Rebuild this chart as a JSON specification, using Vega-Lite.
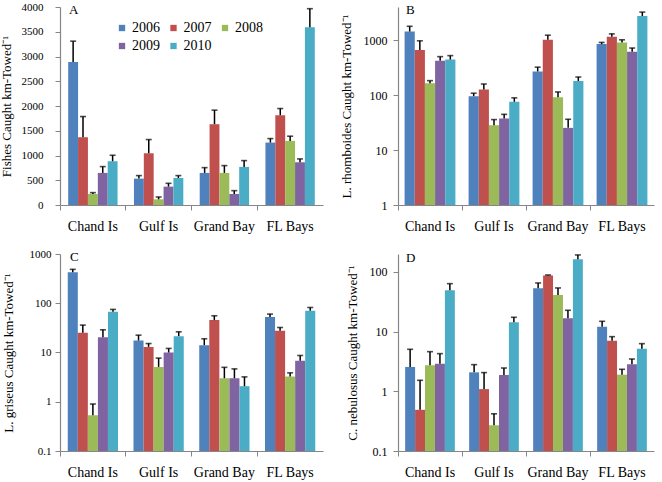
{
  "$schema": "https://vega.github.io/schema/vega-lite/v6.json",
  "padding": {"left": 0, "top": 1, "right": 5, "bottom": 5},
  "background": "white",
  "config": {
    "view": {"stroke": null},
    "font": "Liberation Serif",
    "axis": {"domainColor": "#868686", "tickColor": "#868686", "tickSize": 5, "grid": false, "labelColor": "black", "labelFont": "Liberation Serif", "titleFont": "Liberation Serif", "titleFontWeight": "normal", "titleColor": "black", "domainWidth": 1.2, "labelOverlap": false},
    "title": {"font": "Liberation Serif", "fontSize": 13, "fontWeight": "normal", "color": "black"}
  },
  "data": {"values": [
    {"panel": "A", "site": "Chand Is", "year": "2006", "value": 2890, "upper": 3310},
    {"panel": "A", "site": "Chand Is", "year": "2007", "value": 1369, "upper": 1787},
    {"panel": "A", "site": "Chand Is", "year": "2008", "value": 223, "upper": 250},
    {"panel": "A", "site": "Chand Is", "year": "2009", "value": 648, "upper": 776},
    {"panel": "A", "site": "Chand Is", "year": "2010", "value": 884, "upper": 1005},
    {"panel": "A", "site": "Gulf Is", "year": "2006", "value": 533, "upper": 594},
    {"panel": "A", "site": "Gulf Is", "year": "2007", "value": 1045, "upper": 1322},
    {"panel": "A", "site": "Gulf Is", "year": "2008", "value": 115, "upper": 162},
    {"panel": "A", "site": "Gulf Is", "year": "2009", "value": 371, "upper": 438},
    {"panel": "A", "site": "Gulf Is", "year": "2010", "value": 546, "upper": 594},
    {"panel": "A", "site": "Grand Bay", "year": "2006", "value": 648, "upper": 755},
    {"panel": "A", "site": "Grand Bay", "year": "2007", "value": 1632, "upper": 1916},
    {"panel": "A", "site": "Grand Bay", "year": "2008", "value": 648, "upper": 796},
    {"panel": "A", "site": "Grand Bay", "year": "2009", "value": 223, "upper": 290},
    {"panel": "A", "site": "Grand Bay", "year": "2010", "value": 769, "upper": 897},
    {"panel": "A", "site": "FL Bays", "year": "2006", "value": 1261, "upper": 1342},
    {"panel": "A", "site": "FL Bays", "year": "2007", "value": 1814, "upper": 1949},
    {"panel": "A", "site": "FL Bays", "year": "2008", "value": 1295, "upper": 1390},
    {"panel": "A", "site": "FL Bays", "year": "2009", "value": 863, "upper": 931},
    {"panel": "A", "site": "FL Bays", "year": "2010", "value": 3589, "upper": 3966},
    {"panel": "B", "site": "Chand Is", "year": "2006", "value": 1430, "upper": 1783},
    {"panel": "B", "site": "Chand Is", "year": "2007", "value": 660, "upper": 971},
    {"panel": "B", "site": "Chand Is", "year": "2008", "value": 164, "upper": 183},
    {"panel": "B", "site": "Chand Is", "year": "2009", "value": 419, "upper": 500},
    {"panel": "B", "site": "Chand Is", "year": "2010", "value": 442, "upper": 522},
    {"panel": "B", "site": "Gulf Is", "year": "2006", "value": 95.4, "upper": 108},
    {"panel": "B", "site": "Gulf Is", "year": "2007", "value": 126, "upper": 159},
    {"panel": "B", "site": "Gulf Is", "year": "2008", "value": 28.3, "upper": 35.8},
    {"panel": "B", "site": "Gulf Is", "year": "2009", "value": 37.3, "upper": 44.6},
    {"panel": "B", "site": "Gulf Is", "year": "2010", "value": 75.4, "upper": 89},
    {"panel": "B", "site": "Grand Bay", "year": "2006", "value": 269, "upper": 322},
    {"panel": "B", "site": "Grand Bay", "year": "2007", "value": 1012, "upper": 1228},
    {"panel": "B", "site": "Grand Bay", "year": "2008", "value": 91.5, "upper": 114},
    {"panel": "B", "site": "Grand Bay", "year": "2009", "value": 25.3, "upper": 36.3},
    {"panel": "B", "site": "Grand Bay", "year": "2010", "value": 180, "upper": 213},
    {"panel": "B", "site": "FL Bays", "year": "2006", "value": 846, "upper": 907},
    {"panel": "B", "site": "FL Bays", "year": "2007", "value": 1146, "upper": 1298},
    {"panel": "B", "site": "FL Bays", "year": "2008", "value": 907, "upper": 1012},
    {"panel": "B", "site": "FL Bays", "year": "2009", "value": 616, "upper": 717},
    {"panel": "B", "site": "FL Bays", "year": "2010", "value": 2737, "upper": 3230},
    {"panel": "C", "site": "Chand Is", "year": "2006", "value": 424, "upper": 488},
    {"panel": "C", "site": "Chand Is", "year": "2007", "value": 25.1, "upper": 36},
    {"panel": "C", "site": "Chand Is", "year": "2008", "value": 0.53, "upper": 0.9},
    {"panel": "C", "site": "Chand Is", "year": "2009", "value": 20.5, "upper": 28.9},
    {"panel": "C", "site": "Chand Is", "year": "2010", "value": 67.1, "upper": 75},
    {"panel": "C", "site": "Gulf Is", "year": "2006", "value": 17.5, "upper": 22.5},
    {"panel": "C", "site": "Gulf Is", "year": "2007", "value": 13.0, "upper": 15.2},
    {"panel": "C", "site": "Gulf Is", "year": "2008", "value": 5.1, "upper": 7.7},
    {"panel": "C", "site": "Gulf Is", "year": "2009", "value": 10, "upper": 12.1},
    {"panel": "C", "site": "Gulf Is", "year": "2010", "value": 21.5, "upper": 26.3},
    {"panel": "C", "site": "Grand Bay", "year": "2006", "value": 14.1, "upper": 19.0},
    {"panel": "C", "site": "Grand Bay", "year": "2007", "value": 45.5, "upper": 55.7},
    {"panel": "C", "site": "Grand Bay", "year": "2008", "value": 3.0, "upper": 5.0},
    {"panel": "C", "site": "Grand Bay", "year": "2009", "value": 3.0, "upper": 4.65},
    {"panel": "C", "site": "Grand Bay", "year": "2010", "value": 2.07, "upper": 3.2},
    {"panel": "C", "site": "FL Bays", "year": "2006", "value": 52.3, "upper": 60.3},
    {"panel": "C", "site": "FL Bays", "year": "2007", "value": 27.6, "upper": 32.2},
    {"panel": "C", "site": "FL Bays", "year": "2008", "value": 3.25, "upper": 3.86},
    {"panel": "C", "site": "FL Bays", "year": "2009", "value": 6.77, "upper": 8.7},
    {"panel": "C", "site": "FL Bays", "year": "2010", "value": 70.3, "upper": 82},
    {"panel": "D", "site": "Chand Is", "year": "2006", "value": 2.56, "upper": 5.06},
    {"panel": "D", "site": "Chand Is", "year": "2007", "value": 0.49, "upper": 1.53},
    {"panel": "D", "site": "Chand Is", "year": "2008", "value": 2.73, "upper": 4.62},
    {"panel": "D", "site": "Chand Is", "year": "2009", "value": 2.91, "upper": 4.28},
    {"panel": "D", "site": "Chand Is", "year": "2010", "value": 49.3, "upper": 63.7},
    {"panel": "D", "site": "Gulf Is", "year": "2006", "value": 2.08, "upper": 2.8},
    {"panel": "D", "site": "Gulf Is", "year": "2007", "value": 1.09, "upper": 2.06},
    {"panel": "D", "site": "Gulf Is", "year": "2008", "value": 0.27, "upper": 0.42},
    {"panel": "D", "site": "Gulf Is", "year": "2009", "value": 1.88, "upper": 2.46},
    {"panel": "D", "site": "Gulf Is", "year": "2010", "value": 14.3, "upper": 17.4},
    {"panel": "D", "site": "Grand Bay", "year": "2006", "value": 53.2, "upper": 65.4},
    {"panel": "D", "site": "Grand Bay", "year": "2007", "value": 86.9, "upper": 89},
    {"panel": "D", "site": "Grand Bay", "year": "2008", "value": 41.2, "upper": 54.0},
    {"panel": "D", "site": "Grand Bay", "year": "2009", "value": 16.7, "upper": 22.8},
    {"panel": "D", "site": "Grand Bay", "year": "2010", "value": 163, "upper": 193},
    {"panel": "D", "site": "FL Bays", "year": "2006", "value": 12.1, "upper": 14.9},
    {"panel": "D", "site": "FL Bays", "year": "2007", "value": 7.07, "upper": 8.24},
    {"panel": "D", "site": "FL Bays", "year": "2008", "value": 1.9, "upper": 2.34},
    {"panel": "D", "site": "FL Bays", "year": "2009", "value": 2.84, "upper": 3.48},
    {"panel": "D", "site": "FL Bays", "year": "2010", "value": 5.19, "upper": 6.29}
  ]},
  "resolve": {"scale": {"color": "independent", "y": "independent", "x": "independent", "xOffset": "independent"}, "legend": {"color": "independent"}},
  "bounds": "flush",
  "columns": 2,
  "spacing": {"row": 49, "column": 75},
  "concat": [
    {
      "width": 263, "height": 198,
      "title": {"text": "A", "anchor": "start", "frame": "group", "offset": 0, "dx": 9, "dy": 26, "baseline": "alphabetic"},
      "transform": [{"filter": "datum.panel == 'A'"}],
      "encoding": {
        "x": {"field": "site", "type": "nominal", "sort": ["Chand Is", "Gulf Is", "Grand Bay", "FL Bays"], "scale": {"paddingInner": 0, "paddingOuter": 0}, "axis": {"title": null, "labelAngle": 0, "labelFontSize": 14, "labelPadding": 9, "bandPosition": 0}},
        "xOffset": {"field": "year", "type": "nominal", "scale": {"paddingInner": 0, "paddingOuter": 0.83}}
      },
      "layer": [
        {"mark": {"type": "bar"}, "encoding": {
          "y": {"field": "value", "type": "quantitative", "stack": null, "scale": {"domain": [0, 4000], "nice": false}, "axis": {"title": "Fishes Caught km-Towed⁻¹", "titleFontSize": 13, "titlePadding": 8, "labelFontSize": 11, "labelPadding": 12, "labelOverlap": false, "values": [0, 500, 1000, 1500, 2000, 2500, 3000, 3500, 4000], "tickCount": 9, "format": "d"}},
          "color": {"field": "year", "type": "nominal", "scale": {"domain": ["2006", "2007", "2008", "2009", "2010"], "range": ["#4F81BD", "#C0504D", "#9BBB59", "#8064A2", "#4BACC6"]},
            "legend": {"title": null, "orient": "none", "legendX": 55, "legendY": 14, "columns": 3, "direction": "horizontal", "symbolType": "square", "symbolSize": 40, "symbolStrokeWidth": 0, "labelFont": "Liberation Serif", "labelFontSize": 14, "labelColor": "black", "columnPadding": 6.5, "rowPadding": 4, "labelOffset": 3}}
        }},
        {"mark": {"type": "rule", "color": "black", "strokeWidth": 1.5}, "encoding": {"y": {"field": "value", "type": "quantitative", "axis": {"title": "Fishes Caught km-Towed⁻¹", "titleFontSize": 13, "titlePadding": 8, "labelFontSize": 11, "labelPadding": 12, "labelOverlap": false, "values": [0, 500, 1000, 1500, 2000, 2500, 3000, 3500, 4000], "tickCount": 9, "format": "d"}}, "y2": {"field": "upper"}}},
        {"mark": {"type": "tick", "color": "black", "thickness": 1.6, "size": 6}, "encoding": {"y": {"field": "upper", "type": "quantitative", "axis": {"title": "Fishes Caught km-Towed⁻¹", "titleFontSize": 13, "titlePadding": 8, "labelFontSize": 11, "labelPadding": 12, "labelOverlap": false, "values": [0, 500, 1000, 1500, 2000, 2500, 3000, 3500, 4000], "tickCount": 9, "format": "d"}}}}
      ]
    },
    {
      "width": 256, "height": 198,
      "title": {"text": "B", "anchor": "start", "frame": "group", "offset": 0, "dx": 8, "dy": 20, "baseline": "alphabetic"},
      "transform": [{"filter": "datum.panel == 'B'"}],
      "encoding": {
        "x": {"field": "site", "type": "nominal", "sort": ["Chand Is", "Gulf Is", "Grand Bay", "FL Bays"], "scale": {"paddingInner": 0, "paddingOuter": 0}, "axis": {"title": null, "labelAngle": 0, "labelFontSize": 14, "labelPadding": 9, "bandPosition": 0}},
        "xOffset": {"field": "year", "type": "nominal", "scale": {"paddingInner": 0, "paddingOuter": 0.65}}
      },
      "layer": [
        {"mark": {"type": "bar"}, "encoding": {
          "y": {"field": "value", "type": "quantitative", "stack": null, "scale": {"type": "log", "domain": [1, 4000], "nice": false}, "axis": {"title": "L. rhomboides Caught km-Towed⁻¹", "titleFontSize": 13, "titlePadding": 10, "labelFontSize": 12, "labelPadding": 6, "values": [1, 10, 100, 1000], "format": "~g"}},
          "color": {"field": "year", "type": "nominal", "scale": {"domain": ["2006", "2007", "2008", "2009", "2010"], "range": ["#4F81BD", "#C0504D", "#9BBB59", "#8064A2", "#4BACC6"]}, "legend": null}
        }},
        {"mark": {"type": "rule", "color": "black", "strokeWidth": 1.5}, "encoding": {"y": {"field": "value", "type": "quantitative"}, "y2": {"field": "upper"}}},
        {"mark": {"type": "tick", "color": "black", "thickness": 1.6, "size": 6}, "encoding": {"y": {"field": "upper", "type": "quantitative"}}}
      ]
    },
    {
      "width": 263, "height": 197,
      "title": {"text": "C", "anchor": "start", "frame": "group", "offset": 0, "dx": 10, "dy": 26, "baseline": "alphabetic"},
      "transform": [{"filter": "datum.panel == 'C'"}],
      "encoding": {
        "x": {"field": "site", "type": "nominal", "sort": ["Chand Is", "Gulf Is", "Grand Bay", "FL Bays"], "scale": {"paddingInner": 0, "paddingOuter": 0}, "axis": {"title": null, "labelAngle": 0, "labelFontSize": 14, "labelPadding": 9, "bandPosition": 0}},
        "xOffset": {"field": "year", "type": "nominal", "scale": {"paddingInner": 0, "paddingOuter": 0.77}}
      },
      "layer": [
        {"mark": {"type": "bar"}, "encoding": {
          "y": {"field": "value", "type": "quantitative", "stack": null, "scale": {"type": "log", "domain": [0.1, 1000], "nice": false}, "axis": {"title": "L. griseus Caught km-Towed⁻¹", "titleFontSize": 13, "titlePadding": 14, "labelFontSize": 11, "labelPadding": 4, "values": [0.1, 1, 10, 100, 1000], "format": "~g"}},
          "color": {"field": "year", "type": "nominal", "scale": {"domain": ["2006", "2007", "2008", "2009", "2010"], "range": ["#4F81BD", "#C0504D", "#9BBB59", "#8064A2", "#4BACC6"]}, "legend": null}
        }},
        {"mark": {"type": "rule", "color": "black", "strokeWidth": 1.5}, "encoding": {"y": {"field": "value", "type": "quantitative"}, "y2": {"field": "upper"}}},
        {"mark": {"type": "tick", "color": "black", "thickness": 1.6, "size": 6}, "encoding": {"y": {"field": "upper", "type": "quantitative"}}}
      ]
    },
    {
      "width": 256, "height": 197,
      "title": {"text": "D", "anchor": "start", "frame": "group", "offset": 0, "dx": 8, "dy": 21, "baseline": "alphabetic"},
      "transform": [{"filter": "datum.panel == 'D'"}],
      "encoding": {
        "x": {"field": "site", "type": "nominal", "sort": ["Chand Is", "Gulf Is", "Grand Bay", "FL Bays"], "scale": {"paddingInner": 0, "paddingOuter": 0}, "axis": {"title": null, "labelAngle": 0, "labelFontSize": 14, "labelPadding": 9, "bandPosition": 0}},
        "xOffset": {"field": "year", "type": "nominal", "scale": {"paddingInner": 0, "paddingOuter": 0.72}}
      },
      "layer": [
        {"mark": {"type": "bar"}, "encoding": {
          "y": {"field": "value", "type": "quantitative", "stack": null, "scale": {"type": "log", "domain": [0.1, 200], "nice": false}, "axis": {"title": "C. nebulosus Caught km-Towed⁻¹", "titleFontSize": 13, "titlePadding": 10, "labelFontSize": 12, "labelPadding": 6, "values": [0.1, 1, 10, 100], "format": "~g"}},
          "color": {"field": "year", "type": "nominal", "scale": {"domain": ["2006", "2007", "2008", "2009", "2010"], "range": ["#4F81BD", "#C0504D", "#9BBB59", "#8064A2", "#4BACC6"]}, "legend": null}
        }},
        {"mark": {"type": "rule", "color": "black", "strokeWidth": 1.5}, "encoding": {"y": {"field": "value", "type": "quantitative"}, "y2": {"field": "upper"}}},
        {"mark": {"type": "tick", "color": "black", "thickness": 1.6, "size": 6}, "encoding": {"y": {"field": "upper", "type": "quantitative"}}}
      ]
    }
  ]
}
